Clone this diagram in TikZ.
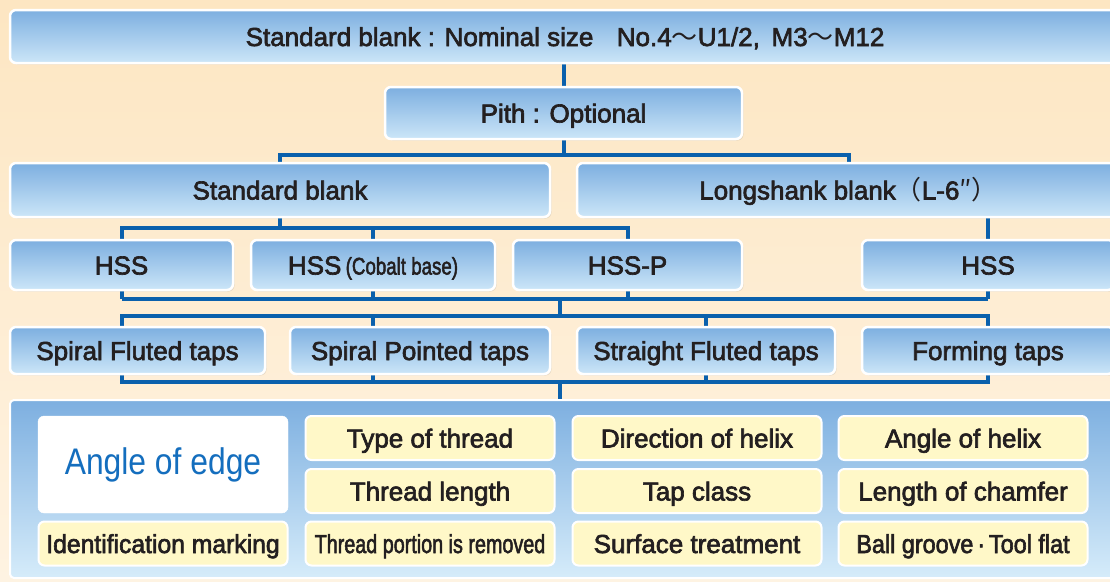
\documentclass[tikz,border=0pt]{standalone}
\usepackage{fontspec}
\usepackage{graphicx}
\setmainfont{Liberation Sans}[BoldFont=Liberation Sans, BoldFeatures={FakeBold=2.5}]
\newfontfamily\cjkfont{Noto Sans CJK JP}
\newfontfamily\thinfont{Liberation Sans}
\usetikzlibrary{shadows,backgrounds}

\definecolor{linkblue}{RGB}{10,96,172}
\definecolor{boxtop}{RGB}{125,175,224}
\definecolor{boxbot}{RGB}{204,230,248}
\definecolor{panelbot}{RGB}{214,236,250}
\definecolor{bgtop}{RGB}{253,230,194}
\definecolor{bgbot}{RGB}{254,243,226}
\definecolor{specfill}{RGB}{255,248,200}
\definecolor{edgeblue}{RGB}{20,110,190}
\definecolor{ink}{RGB}{35,31,32}

\tikzstyle{bluebox}=[rectangle, rounded corners=6pt, draw=white, line width=2.5pt, top color=boxtop, bottom color=boxbot, text=ink, font=\fontsize{26}{26}\selectfont\bfseries, inner sep=0pt, text height=19pt, text depth=0pt, drop shadow={opacity=0.18, shadow xshift=1.5pt, shadow yshift=-1.5pt}]
\tikzstyle{panelbox}=[rectangle, rounded corners=4pt, draw=white, line width=2pt, top color=boxtop, bottom color=panelbot, inner sep=0pt]
\tikzstyle{specbox}=[rectangle, rounded corners=6pt, draw=white, line width=2pt, fill=specfill, text=ink, font=\fontsize{26}{26}\selectfont\bfseries, inner sep=0pt, text height=19pt, text depth=0pt, minimum width=249pt, minimum height=44pt]
\tikzstyle{link}=[draw, line width=4pt, linkblue, line join=miter]
\newcommand{\wave}{{\cjkfont\mdseries ～}}

\begin{document}
\begin{tikzpicture}[x=1pt, y=-1pt]
    \useasboundingbox (0,0) rectangle (1110,581);
    \begin{pgfonlayer}{background}
        \shade[top color=bgtop, bottom color=bgbot] (0,0) rectangle (1110,581);
    \end{pgfonlayer}

    % First we draw the tree of blue boxes
    \node[bluebox, minimum width=1110pt, minimum height=53pt] (size) at (565,36.5)
        {Standard blank : Nominal size\hspace{0.9em}No.4\wave U1/2,\hspace{0.45em}M3\wave M12};
    \node[bluebox, minimum width=357pt, minimum height=52pt] (pith) at (563.5,113) {Pith : Optional};
    \foreach \pos/\name/\wid/\txt in {{(280,190)/std/540/Standard blank},
            {(848.5,190)/long/543/Longshank blank{\cjkfont\mdseries （}L-6{\cjkfont\mdseries ″}{\cjkfont\mdseries ）}}}
        \node[bluebox, minimum width=\wid pt, minimum height=54pt] (\name) at \pos {\txt};
    \foreach \pos/\name/\wid/\txt in {{(121.5,265)/hssA/223/HSS},
            {(373,265)/hssB/244/HSS\,\scalebox{0.78}[1]{\fontsize{24}{24}\selectfont(Cobalt base)}},
            {(627.5,265)/hssC/229/HSS-P}, {(988,265)/hssD/252/HSS}}
        \node[bluebox, minimum width=\wid pt, minimum height=50pt] (\name) at \pos {\txt};
    \foreach \pos/\name/\wid/\txt in {{(137.5,350.5)/sf/255/Spiral Fluted taps},
            {(420,350.5)/sp/260/Spiral Pointed taps}, {(706,350.5)/st/258/Straight Fluted taps},
            {(988,350.5)/fm/252/Forming taps}}
        \node[bluebox, minimum width=\wid pt, minimum height=47pt] (\name) at \pos {\txt};

    % The panel with the tap specifications
    \node[panelbox, minimum width=1110pt, minimum height=178pt] (panel) at (565,489) {};
    \node[rectangle, rounded corners=6pt, fill=white, draw=white, inner sep=0pt,
        minimum width=250pt, minimum height=97pt, text=edgeblue] (angleedge) at (163,464.5)
        {\scalebox{0.86}[1]{\thinfont\fontsize{37}{37}\selectfont Angle of edge}};
    \foreach \pos/\name/\txt in {{(430,438)/thread/Type of thread}, {(430,491)/length/Thread length},
            {(430,543.5)/removed/\scalebox{0.76}[1]{Thread portion is removed}},
            {(163,543.5)/mark/\scalebox{0.95}[1]{Identification marking}},
            {(697,438)/helix/Direction of helix}, {(697,491)/class/Tap class},
            {(697,543.5)/surface/Surface treatment},
            {(963,438)/angle/Angle of helix}, {(963,491)/chamfer/Length of chamfer},
            {(963,543.5)/groove/\scalebox{0.9}[1]{Ball groove\,\textperiodcentered\,Tool flat}}}
        \node[specbox] (\name) at \pos {\txt};

    % Connect the boxes
    \coordinate (busA) at (0,155);
    \coordinate (busB) at (0,228);
    \coordinate (busC) at (0,299);
    \coordinate (busD) at (0,316);
    \coordinate (busE) at (0,382);
    \coordinate (mid) at (560,0);
    \begin{pgfonlayer}{background}
        \path[link] (size.south -| pith.north) -- (pith.north);
        \path[link] (pith.south) -- (pith.south |- busA);
        \path[link] (std.north) |- (long.north |- busA) -- (long.north);
        \path[link] (std.south) -- (std.south |- busB);
        \path[link] (hssA.north) |- (hssC.north |- busB) -- (hssC.north);
        \path[link] (hssB.north) -- (hssB.north |- busB);
        \path[link] (long.south -| hssD.north) -- (hssD.north);
        \foreach \name in {hssA, hssB, hssC, hssD}
            \path[link] (\name.south) -- (\name.south |- busC);
        \path[link] (hssA.south |- busC) -- (hssD.south |- busC);
        \path[link] (mid |- busC) -- (mid |- busD);
        \path[link] (hssA.south |- sf.north) |- (hssD.south |- busD) -- (fm.north);
        \path[link] (hssB.south |- sp.north) -- (hssB.south |- busD);
        \path[link] (st.north) -- (st.north |- busD);
        \path[link] (hssA.south |- sf.south) |- (hssD.south |- busE) -- (fm.south);
        \path[link] (hssB.south |- sp.south) -- (hssB.south |- busE);
        \path[link] (st.south) -- (st.south |- busE);
        \path[link] (mid |- busE) -- (mid |- panel.north);
    \end{pgfonlayer}
\end{tikzpicture}
\end{document}
